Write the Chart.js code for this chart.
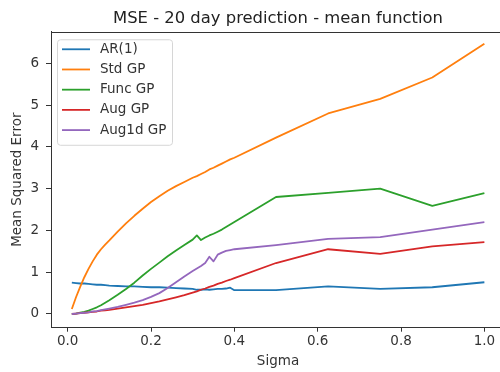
<!DOCTYPE html>
<html>
<head>
<meta charset="utf-8">
<script src="https://cdn.jsdelivr.net/npm/chart.js@4.4.1/dist/chart.umd.min.js"></script>
<style>
  html, body { margin: 0; padding: 0; background: #fff; overflow: hidden; }
  #wrap { width: 510px; height: 372px; }
</style>
</head>
<body>
<div id="wrap"><canvas id="c" width="510" height="372"></canvas></div>
<script>
// Noise level (sigma) at which each model was evaluated
const sigma = [0.01, 0.02, 0.03, 0.04, 0.05, 0.06, 0.07, 0.08, 0.09, 0.10,
               0.12, 0.14, 0.16, 0.18, 0.20, 0.22, 0.24, 0.26, 0.28, 0.30,
               0.31, 0.32, 0.33, 0.34, 0.35, 0.36, 0.37, 0.38, 0.39, 0.40,
               0.5, 0.625, 0.75, 0.875, 1.0];

// Mean squared error of the 20 day prediction, per model
const ar1 = [0.75, 0.74, 0.73, 0.73, 0.72, 0.71, 0.70, 0.70, 0.69, 0.68,
             0.67, 0.66, 0.66, 0.65, 0.64, 0.64, 0.63, 0.62, 0.61, 0.60,
             0.58, 0.58, 0.59, 0.58, 0.59, 0.60, 0.60, 0.61, 0.63, 0.57,
             0.57, 0.66, 0.60, 0.64, 0.76];
const stdGP = [0.12, 0.40, 0.65, 0.88, 1.08, 1.26, 1.42, 1.55, 1.66, 1.76,
               1.97, 2.17, 2.35, 2.52, 2.68, 2.82, 2.95, 3.06, 3.16, 3.26,
               3.30, 3.35, 3.40, 3.46, 3.50, 3.55, 3.60, 3.65, 3.70, 3.74,
               4.22, 4.80, 5.15, 5.66, 6.47];
const funcGP = [0.00, 0.01, 0.03, 0.05, 0.08, 0.12, 0.16, 0.21, 0.27, 0.33,
                0.46, 0.60, 0.75, 0.92, 1.08, 1.23, 1.38, 1.52, 1.65, 1.78,
                1.88, 1.77, 1.83, 1.88, 1.92, 1.97, 2.02, 2.08, 2.14, 2.20,
                2.80, 2.90, 3.00, 2.59, 2.89];
const augGP = [0.00, 0.01, 0.02, 0.03, 0.04, 0.05, 0.06, 0.08, 0.09, 0.10,
               0.13, 0.16, 0.19, 0.22, 0.26, 0.30, 0.35, 0.40, 0.45, 0.51,
               0.54, 0.58, 0.61, 0.65, 0.68, 0.72, 0.75, 0.79, 0.82, 0.86,
               1.22, 1.55, 1.44, 1.62, 1.72];
const aug1dGP = [0.00, 0.01, 0.02, 0.03, 0.04, 0.06, 0.07, 0.09, 0.11, 0.13,
                 0.17, 0.22, 0.27, 0.33, 0.41, 0.50, 0.62, 0.76, 0.90, 1.03,
                 1.09, 1.15, 1.22, 1.37, 1.26, 1.42, 1.47, 1.51, 1.53, 1.55,
                 1.65, 1.80, 1.84, 2.02, 2.20];

const seriesNames = ['AR(1)', 'Std GP', 'Func GP', 'Aug GP', 'Aug1d GP'];
const seriesValues = [ar1, stdGP, funcGP, augGP, aug1dGP];
const seriesColors = ['#1f77b4', '#ff7f0e', '#2ca02c', '#d62728', '#9467bd'];

const xTicks = [0.0, 0.2, 0.4, 0.6, 0.8, 1.0];
const yTicks = [0, 1, 2, 3, 4, 5, 6];

const FONT = '"DejaVu Sans", "Liberation Sans", sans-serif';
const INK = '#333333';

// Legend in a rounded box at the upper left of the plot area
const boxLegend = {
  id: 'boxLegend',
  afterDatasetsDraw(chart) {
    const ctx = chart.ctx;
    const a = chart.chartArea;
    const x0 = a.left + 6, y0 = a.top + 7.6, w = 115, h = 105.5;
    ctx.save();
    ctx.beginPath();
    ctx.roundRect(x0 + 0.5, y0 + 0.5, w, h, 3);
    ctx.fillStyle = 'rgba(255,255,255,0.85)';
    ctx.fill();
    ctx.strokeStyle = '#d6d6d6';
    ctx.lineWidth = 1;
    ctx.stroke();
    ctx.font = '13.5px ' + FONT;
    ctx.textBaseline = 'middle';
    ctx.textAlign = 'left';
    chart.data.datasets.forEach((ds, i) => {
      const y = y0 + 10 + i * 20.2;
      ctx.strokeStyle = ds.borderColor;
      ctx.lineWidth = 1.8;
      ctx.beginPath();
      ctx.moveTo(x0 + 5, y);
      ctx.lineTo(x0 + 33, y);
      ctx.stroke();
      ctx.fillStyle = INK;
      ctx.fillText(ds.label, x0 + 43, y);
    });
    ctx.restore();
  }
};

// Top and right spines to close the axes frame
const frame = {
  id: 'frame',
  afterDraw(chart) {
    const ctx = chart.ctx;
    const a = chart.chartArea;
    ctx.save();
    ctx.strokeStyle = INK;
    ctx.lineWidth = 1;
    ctx.beginPath();
    ctx.moveTo(a.left, Math.round(a.top) + 0.5);
    ctx.lineTo(a.right, Math.round(a.top) + 0.5);
    ctx.lineTo(a.right, a.bottom);
    ctx.stroke();
    ctx.restore();
  }
};

new Chart(document.getElementById('c'), {
  type: 'line',
  data: {
    datasets: seriesNames.map((name, i) => ({
      label: name,
      data: sigma.map((s, k) => ({ x: s, y: seriesValues[i][k] })),
      borderColor: seriesColors[i],
      backgroundColor: seriesColors[i],
      borderWidth: 1.8,
      pointRadius: 0,
      tension: 0,
      fill: false,
      borderJoinStyle: 'round',
      order: seriesNames.length - i
    }))
  },
  options: {
    responsive: false,
    animation: false,
    devicePixelRatio: 1,
    layout: { padding: { left: 0, right: 5, top: 0, bottom: 0 } },
    plugins: {
      legend: { display: false },
      tooltip: { enabled: false },
      title: {
        display: true,
        fullSize: false,
        text: 'MSE - 20 day prediction - mean function',
        color: '#222',
        font: { family: FONT, size: 16.4, weight: 'normal', lineHeight: 1.2 },
        padding: { top: 9.2, bottom: 2.8 }
      }
    },
    scales: {
      x: {
        type: 'linear',
        min: -0.04,
        max: 1.0495,
        afterBuildTicks: s => { s.ticks = xTicks.map(v => ({ value: v })); },
        afterFit: s => { s.height = 44.3; },
        ticks: {
          color: INK,
          padding: 2,
          font: { family: FONT, size: 13.5 },
          callback: v => Number(v).toFixed(1)
        },
        grid: { drawOnChartArea: false, drawTicks: true, tickLength: 4, color: INK },
        border: { display: true, color: INK, width: 1 },
        title: {
          display: true,
          text: 'Sigma',
          color: INK,
          font: { family: FONT, size: 13.5, lineHeight: 1.2 },
          padding: { top: 0, bottom: 2.9 }
        }
      },
      y: {
        type: 'linear',
        min: -0.328,
        max: 6.757,
        afterBuildTicks: s => { s.ticks = yTicks.map(v => ({ value: v })); },
        afterFit: s => { s.width = 51; },
        ticks: {
          color: INK,
          padding: 7,
          font: { family: FONT, size: 13.5 },
          callback: v => String(v)
        },
        grid: { drawOnChartArea: false, drawTicks: true, tickLength: 5, color: INK },
        border: { display: true, color: INK, width: 1 },
        title: {
          display: true,
          text: 'Mean Squared Error',
          color: INK,
          font: { family: FONT, size: 13.5, lineHeight: 1.2 },
          padding: { top: 9.5, bottom: 0 }
        }
      }
    }
  },
  plugins: [boxLegend, frame]
});
</script>
</body>
</html>
